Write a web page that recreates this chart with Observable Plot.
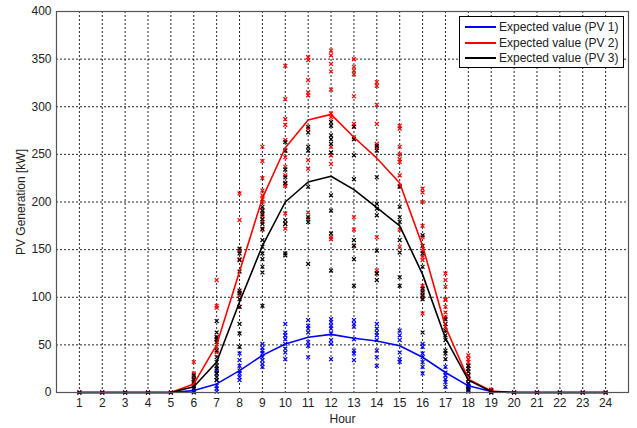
<!DOCTYPE html>
<html>
<head>
<meta charset="utf-8">
<script src="https://cdn.jsdelivr.net/npm/d3@7"></script>
<script src="https://cdn.jsdelivr.net/npm/@observablehq/plot@0.6"></script>
<style>
  html, body { margin: 0; padding: 0; background: #fff; }
  #wrap { position: relative; width: 637px; height: 428px; font-family: "Liberation Sans", Arial, sans-serif; }
  #legend { position: absolute; left: 459px; top: 16px; width: 163px; height: 50px; border: 1px solid #000; background: #fff; font-size: 12px; color: #222; }
  #legend .row { position: absolute; left: 0; height: 16px; line-height: 16px; white-space: nowrap; }
  #legend .sw { position: absolute; left: 5px; top: 7px; width: 31px; height: 0; border-top: 2px solid; }
  #legend .tx { position: absolute; left: 39px; top: 0; }
</style>
</head>
<body>
<div id="wrap"></div>
<script>
const hours = d3.range(1, 25);
const yTicks = [0, 50, 100, 150, 200, 250, 300, 350, 400];
const seriesNames = ["PV 1", "PV 2", "PV 3"];
const seriesColors = ["#0000ff", "#ff0000", "#000000"];
const legendLabels = ["Expected value (PV 1)", "Expected value (PV 2)", "Expected value (PV 3)"];

// Expected values per hour (1..24)
const pv1Expected = [0,0,0,0,0,2,9,23,39,51,58,61,57,54,49,37,21,7,1,0,0,0,0,0];
const pv2Expected = [0,0,0,0,0,9,50,127,204,257,286,292,268,246,220,154,69,14,1.5,0,0,0,0,0];
const pv3Expected = [0,0,0,0,0,6,32,95,154,200,221,227,213,194,175,124,57,13,1,0,0,0,0,0];

// Scenario samples per hour (1..24)
const pv1Samples = [
  [0],[0],[0],[0],[0],
  [4,2,0],
  [23,20,13,7,4,1],
  [41,34,28,23,20,16,13],
  [51,47,44,41,37,34,30,27],
  [72,63,60,56,51,46,42,35],
  [76,70,67,63,53,49,37],
  [77,74,70,67,62,55,51,35],
  [76,72,69,56,44,41,34],
  [72,67,63,60,55,44,37,28],
  [65,60,55,42,35,32],
  [51,48,41,37,32,27,20],
  [27,21,18,14,11,6],
  [9,7,5,3,1],
  [1,0],
  [0],[0],[0],[0],[0]
];
const pv2Samples = [
  [0],[0],[0],[0],[0],
  [32,20,16,13,9],
  [118,91,89,58,55,48,42],
  [209,181,149,140,105,102,90],
  [258,243,225,212,207,203,200,191,185,179,171],
  [343,308,287,281,265,254,247,237,228,219,217,188,177,172],
  [352,349,328,315,312,277,244,235,189,182],
  [359,354,345,337,318,293,289,258,249,240,163,161],
  [350,342,338,334,311,282,279,268,184,171,154],
  [326,322,302,282,261,257,163,128,125],
  [280,277,258,250,245,242,228,217,171,153],
  [214,210,200,175,163,149,142,139,112,107,100,83],
  [125,118,111,98,97,90,84,79,69],
  [39,35,32,28,22,17,14],
  [3,2,1],
  [0],[0],[0],[0],[0]
];
const pv3Samples = [
  [0],[0],[0],[0],[0],
  [18,14,11,7,4,1],
  [75,63,58,56,53,44,37,32,28,25,20,16,13],
  [151,146,139,127,107,104,98,90,72,62,48],
  [195,191,187,182,177,172,160,153,146,140,132,126,91],
  [263,254,234,226,220,181,177,146,144],
  [279,273,258,254,216,184,179,135],
  [284,280,270,266,261,252,207,191,167,128],
  [279,266,249,224,160,154,140,112],
  [259,254,226,198,193,186,149,125,118],
  [216,195,184,179,160,147,121,112],
  [165,154,146,132,109,105,102,98,63],
  [77,72,65,60,55,44,41,35],
  [28,25,22,18,14,10,6,3],
  [2,1,0],
  [0],[0],[0],[0],[0]
];

const samples = [];
[pv1Samples, pv2Samples, pv3Samples].forEach((arr, s) => {
  arr.forEach((vals, i) => vals.forEach(v => samples.push({hour: hours[i], value: v, series: seriesNames[s]})));
});
const expected = [];
[pv1Expected, pv2Expected, pv3Expected].forEach((arr, s) => {
  arr.forEach((v, i) => expected.push({hour: hours[i], value: v, series: seriesNames[s]}));
});

const chart = Plot.plot({
  width: 637,
  height: 428,
  marginLeft: 56,
  marginRight: 9,
  marginTop: 11,
  marginBottom: 36,
  style: {fontFamily: "'Liberation Sans', Arial, sans-serif", fontSize: "12px", color: "#222", background: "#fff"},
  x: {domain: [0, 25]},
  y: {domain: [0, 400]},
  color: {domain: seriesNames, range: seriesColors},
  marks: [
    Plot.gridX(hours, {stroke: "#000", strokeOpacity: 0.85, strokeDasharray: "2,2"}),
    Plot.gridY(yTicks, {stroke: "#000", strokeOpacity: 0.85, strokeDasharray: "2,2"}),
    Plot.dot(samples, {x: "hour", y: "value", stroke: "series", symbol: "times", r: 1.9, strokeWidth: 1.2}),
    Plot.line(expected, {x: "hour", y: "value", z: "series", stroke: "series", strokeWidth: 1.6}),
    Plot.axisX(hours, {tickSize: 0, tickPadding: 6, label: "Hour", labelAnchor: "center", labelOffset: 30, labelArrow: "none"}),
    Plot.axisY(yTicks, {tickSize: 0, tickPadding: 5, label: "PV Generation [kW]", labelAnchor: "center", labelOffset: 40, labelArrow: "none"}),
    Plot.frame({stroke: "#555", strokeWidth: 1.2})
  ]
});

const wrap = document.getElementById("wrap");
wrap.appendChild(chart);

const legend = document.createElement("div");
legend.id = "legend";
legendLabels.forEach((t, i) => {
  const row = document.createElement("div");
  row.className = "row";
  row.style.top = (2 + i * 15.5) + "px";
  row.innerHTML = `<span class="sw" style="border-color:${seriesColors[i]}"></span><span class="tx">${t}</span>`;
  legend.appendChild(row);
});
wrap.appendChild(legend);
</script>
</body>
</html>
